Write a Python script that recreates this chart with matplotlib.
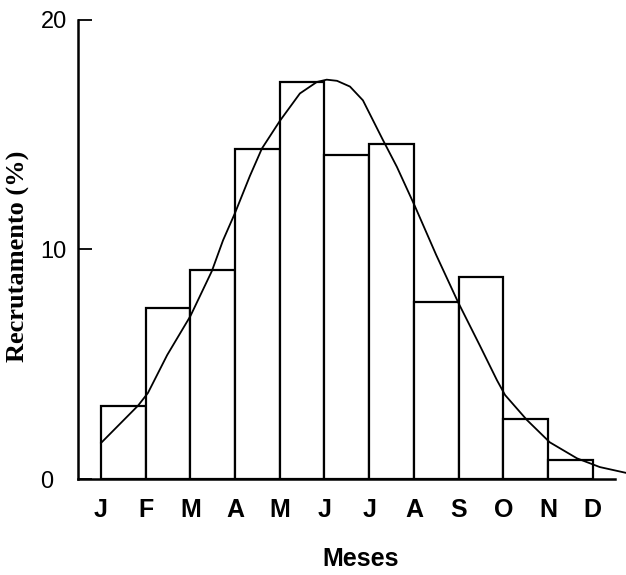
import numpy as np
import matplotlib
matplotlib.use("Agg")
import matplotlib.pyplot as plt
from matplotlib.transforms import ScaledTranslation

# month labels sit on the bar edges
meses = ["J", "F", "M", "A", "M", "J", "J", "A", "S", "O", "N", "D"]
recrutamento = [3.2, 7.45, 9.1, 14.4, 17.3, 14.1, 14.6, 7.7, 8.8, 2.6, 0.83]

# fitted curve, read point by point
curva_x = [0, 0.83, 1.05, 1.48, 2.0, 2.48, 2.73, 3.0, 3.33, 3.6, 4.0, 4.45,
           4.83, 5.05, 5.28, 5.57, 5.86, 6.3, 6.62, 7.02, 7.5, 7.99, 8.48,
           8.86, 9.04, 9.53, 10.04, 10.65, 11.16, 11.74]
curva_y = [1.57, 3.2, 3.75, 5.4, 7.1, 9.06, 10.4, 11.6, 13.2, 14.4, 15.6, 16.8,
           17.3, 17.4, 17.35, 17.1, 16.5, 14.8, 13.6, 11.9, 9.76, 7.7, 5.8,
           4.3, 3.66, 2.57, 1.6, 0.9, 0.52, 0.27]

fig = plt.figure(figsize=(6.26, 5.75), dpi=100)
ax = fig.add_axes([78/626, 1 - 479/575, (615 - 78)/626, (479 - 20)/575])

ax.bar(np.arange(len(recrutamento)), recrutamento, width=1, align="edge",
       facecolor="white", edgecolor="black", linewidth=1.6, zorder=2)
ax.plot(curva_x, curva_y, color="black", linewidth=1.3, zorder=3, clip_on=False)

ax.set_xlim(-0.515, 11.5)
ax.set_ylim(0, 20)

for s in ["top", "right"]:
    ax.spines[s].set_visible(False)
for s in ["left", "bottom"]:
    ax.spines[s].set_linewidth(1.8)

ax.set_yticks([0, 10, 20])
ax.tick_params(axis="y", direction="in", length=10, width=1.3, pad=8,
               labelsize=17)
for lab in ax.get_yticklabels():
    lab.set_fontfamily("Liberation Sans")
# the zero label sits further left
ax.get_yticklabels()[0].set_transform(
    ax.get_yticklabels()[0].get_transform()
    + ScaledTranslation(-0.14, 0, fig.dpi_scale_trans))

ax.set_xticks(np.arange(len(meses)))
ax.set_xticklabels(meses, fontsize=18, fontweight="bold",
                   fontfamily="Liberation Sans")
ax.tick_params(axis="x", length=0, pad=14)

fig.text(361/626, 1 - 559/575, "Meses", ha="center", va="center",
         fontsize=18, fontweight="bold", fontfamily="Liberation Sans")
fig.text(18/626, 1 - 256/575, "Recrutamento (%)", ha="center", va="center",
         rotation=90, fontsize=19, fontweight="bold",
         fontfamily="Liberation Serif")

fig.savefig("out.png", dpi=100)
